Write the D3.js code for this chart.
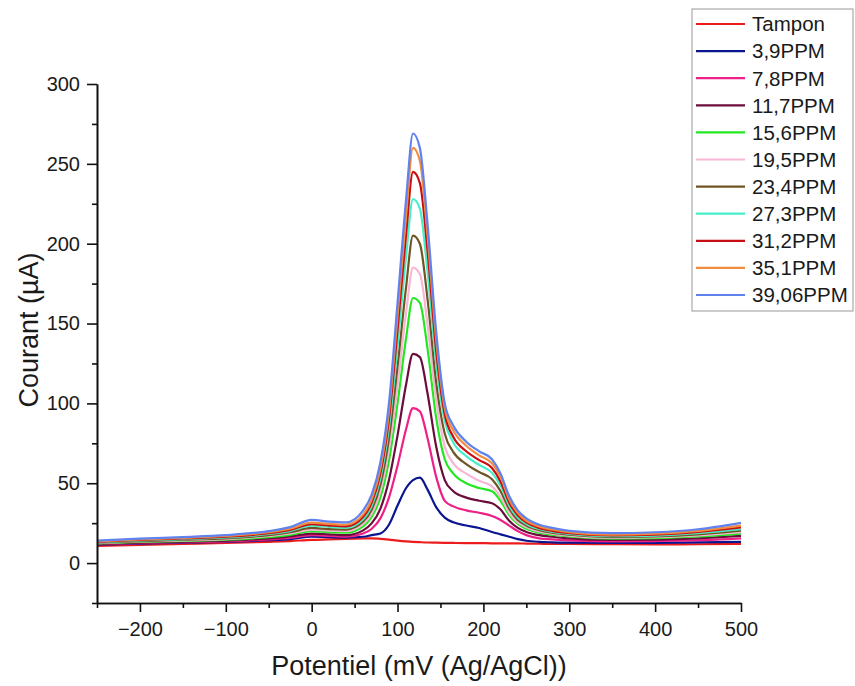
<!DOCTYPE html>
<html>
<head>
<meta charset="utf-8">
<script src="https://cdn.jsdelivr.net/npm/d3@7"></script>
<style>
  body { margin: 0; background: #fff; }
  svg { font-family: Arial, "Liberation Sans", sans-serif; }
</style>
</head>
<body>
<div class="chart"></div>
<script>

// potential (mV) where each curve was read
var potentiel = [-250, -200, -150, -100, -50, -25, 0, 20, 40, 60, 70, 80, 90, 100, 110, 118, 126, 135, 145, 155, 165, 180, 195, 210, 220, 230, 240, 250, 265, 280, 300, 350, 400, 450, 500]

var tampon  = [10.8, 11.4, 12, 12.6, 13.3, 13.8, 14.5, 14.8, 15.1, 15.4, 15.5, 15.2, 14.7, 14.1, 13.6, 13.3, 13.1, 12.9, 12.8, 12.7, 12.6, 12.5, 12.5, 12.4, 12.4, 12.3, 12.3, 12.2, 12.1, 12, 12, 11.8, 11.7, 11.8, 12]
var ppm3_9  = [11.5, 12.2, 12.8, 13.3, 14.3, 15, 16.5, 16.2, 16, 16.5, 17.5, 18.5, 24, 36, 47, 52, 53.5, 46, 35, 28.5, 25.5, 23.5, 22, 19.5, 18, 16.5, 15, 14, 13.3, 13, 12.8, 12.6, 12.7, 13, 13.3]
var ppm7_8  = [11.8, 12.5, 13.1, 13.6, 14.8, 15.7, 17.5, 17, 16.5, 18.5, 21.5, 28, 41, 61, 84, 97, 95, 78, 54, 39, 35.5, 33, 31.5, 29.5, 27, 23.5, 20, 17.5, 15.5, 14.8, 14.2, 13.6, 13.8, 14.3, 15.5]
var ppm11_7 = [12, 12.8, 13.4, 14, 15.5, 16.7, 18.5, 18, 17.5, 20.5, 25, 34, 52, 80, 112, 131, 129, 106, 73, 52, 45, 41, 39, 37.5, 33.5, 26.5, 22, 19.5, 17.5, 16.5, 15.5, 14.5, 14.7, 15.5, 17]
var ppm15_6 = [12.3, 13.2, 13.9, 14.6, 16.3, 17.7, 20, 19.3, 19, 23, 29, 41, 64, 100, 141, 166, 163, 134, 91, 65, 56, 50, 47, 45, 39, 30, 24.5, 21.5, 19, 17.8, 16.7, 15.3, 15.6, 16.7, 18.5]
var ppm19_5 = [12.5, 13.5, 14.2, 15, 17, 18.5, 21, 20.3, 20, 24.5, 31, 45, 71, 111, 157, 185, 181, 149, 102, 73, 62.5, 56, 51.5, 48, 41.5, 31.5, 25.5, 22.5, 19.8, 18.4, 17.2, 15.8, 16.2, 17.3, 19.3]
var ppm23_4 = [12.8, 13.8, 14.6, 15.5, 17.5, 19.3, 22, 21.3, 21, 26, 33.5, 49, 78, 123, 173, 205, 200, 165, 113, 81, 69.5, 62, 57, 52.5, 45, 34, 27, 23.5, 20.6, 19, 17.8, 16.3, 16.7, 18, 20.3]
var ppm27_3 = [13, 14.2, 15, 16, 18.2, 20.2, 23.5, 22.7, 22.2, 27.5, 36, 53, 85, 136, 192, 228, 222, 182, 125, 89, 75.5, 67, 61.5, 56.5, 48.5, 36, 28.5, 24.5, 21.3, 19.6, 18.3, 16.8, 17.2, 18.7, 21.2]
var ppm31_2 = [13.3, 14.5, 15.4, 16.5, 18.7, 20.8, 24.3, 23.5, 23, 29, 38, 56, 90, 146, 206, 245, 238, 195, 133, 93, 79, 70, 64.5, 59.5, 51, 38, 30, 25.5, 22, 20.2, 18.8, 17.3, 17.8, 19.5, 22.3]
var ppm35_1 = [13.6, 14.8, 15.8, 17, 19.3, 21.5, 25.3, 24.5, 24, 30.5, 40, 59, 95, 155, 218, 260, 252, 205, 140, 97, 83, 73.5, 67.5, 62.5, 54, 40, 31.5, 26.5, 23, 21, 19.4, 17.8, 18.4, 20.2, 23.5]
var ppm39_06 = [14, 15.3, 16.3, 17.5, 20, 22.5, 27, 26, 25.5, 33, 43, 63, 100, 163, 228, 269, 260, 212, 145, 100, 86, 76, 70, 65, 56, 42, 33, 28, 24, 22, 20.2, 18.7, 19.3, 21.2, 25.2]

var labels = ["Tampon", "3,9PPM", "7,8PPM", "11,7PPM", "15,6PPM", "19,5PPM", "23,4PPM", "27,3PPM", "31,2PPM", "35,1PPM", "39,06PPM"]
var colors = ["#ec1c1c", "#0a1590", "#ee1f86", "#6b0c3c", "#22e822", "#f7b6d4", "#6e5523", "#44efc8", "#c80d13", "#f28c3e", "#5f82ef"]

var xTicks = [-200, -100, 0, 100, 200, 300, 400, 500]
var yTicks = [0, 50, 100, 150, 200, 250, 300]

var allSeries = [tampon, ppm3_9, ppm7_8, ppm11_7, ppm15_6, ppm19_5, ppm23_4, ppm27_3, ppm31_2, ppm35_1, ppm39_06]

var margin = {top: 84, right: 114, bottom: 83, left: 97};
var width = 855 - margin.left - margin.right;
var height = 686 - margin.top - margin.bottom;

var svg = d3.select('.chart')
  .append('svg')
  .attr("width", 855)
  .attr("height", 686)

var g = svg.append("g")
  .attr("transform", "translate(" + margin.left + "," + margin.top + ")")

var x = d3.scaleLinear().domain([-250, 500]).range([0, width])
var y = d3.scaleLinear().domain([-25, 300]).range([height, 0])

// curves, Tampon first so the highest concentration ends on top
var line = d3.line()
  .x(function(d) { return x(d[0]) })
  .y(function(d) { return y(d[1]) })
  .curve(d3.curveMonotoneX)

for (i in allSeries){
  g.append("path")
    .datum(potentiel.map(function(p, j){ return [p, allSeries[i][j]] }))
    .attr("fill", "none")
    .attr("stroke", colors[i])
    .attr("stroke-width", 2.2)
    .attr("stroke-linejoin", "round")
    .attr("d", line)
}

// axes: major ticks with labels, minor ticks in between
var xAxis = g.append("g")
  .attr("transform", "translate(0," + height + ")")
  .call(d3.axisBottom(x).tickValues(xTicks).tickSize(9).tickSizeOuter(0)
    .tickFormat(function(d){ return d < 0 ? "\u2212" + Math.abs(d) : d }))
g.append("g")
  .attr("transform", "translate(0," + height + ")")
  .call(d3.axisBottom(x).tickValues(d3.range(-250, 500, 100)).tickSize(5).tickSizeOuter(0).tickFormat(""))

var yAxis = g.append("g")
  .call(d3.axisLeft(y).tickValues(yTicks).tickSize(10).tickSizeOuter(0))
g.append("g")
  .call(d3.axisLeft(y).tickValues(d3.range(-25, 300, 50)).tickSize(5).tickSizeOuter(0).tickFormat(""))

g.selectAll(".domain, .tick line").attr("stroke", "#111").attr("stroke-width", 1.6)
g.selectAll(".tick text").attr("font-size", 20).attr("fill", "#1a1a1a").attr("font-family", "Arial, 'Liberation Sans', sans-serif")
xAxis.selectAll(".tick text").attr("dy", "1.05em")
yAxis.selectAll(".tick text").attr("x", -17)

svg.append("text")
  .attr("x", margin.left + width / 2)
  .attr("y", 675)
  .attr("text-anchor", "middle")
  .attr("font-size", 27)
  .attr("fill", "#1a1a1a")
  .text("Potentiel (mV (Ag/AgCl))")

svg.append("text")
  .attr("transform", "translate(38,330) rotate(-90)")
  .attr("text-anchor", "middle")
  .attr("font-size", 27)
  .attr("fill", "#1a1a1a")
  .text("Courant (\u00b5A)")

// legend
var legend = svg.append("g").attr("transform", "translate(692,9)")
legend.append("rect")
  .attr("width", 161)
  .attr("height", 302)
  .attr("fill", "#fff")
  .attr("stroke", "#999")
  .attr("stroke-width", 1)

for (i in labels){
  var row = legend.append("g").attr("transform", "translate(0," + (15 + i * 27.1) + ")")
  row.append("line")
    .attr("x1", 4).attr("x2", 53)
    .attr("stroke", colors[i])
    .attr("stroke-width", 2.2)
  row.append("text")
    .attr("x", 60)
    .attr("dy", "0.36em")
    .attr("font-size", 20.5)
    .attr("fill", "#1a1a1a")
    .text(labels[i])
}

</script>
</body>
</html>
